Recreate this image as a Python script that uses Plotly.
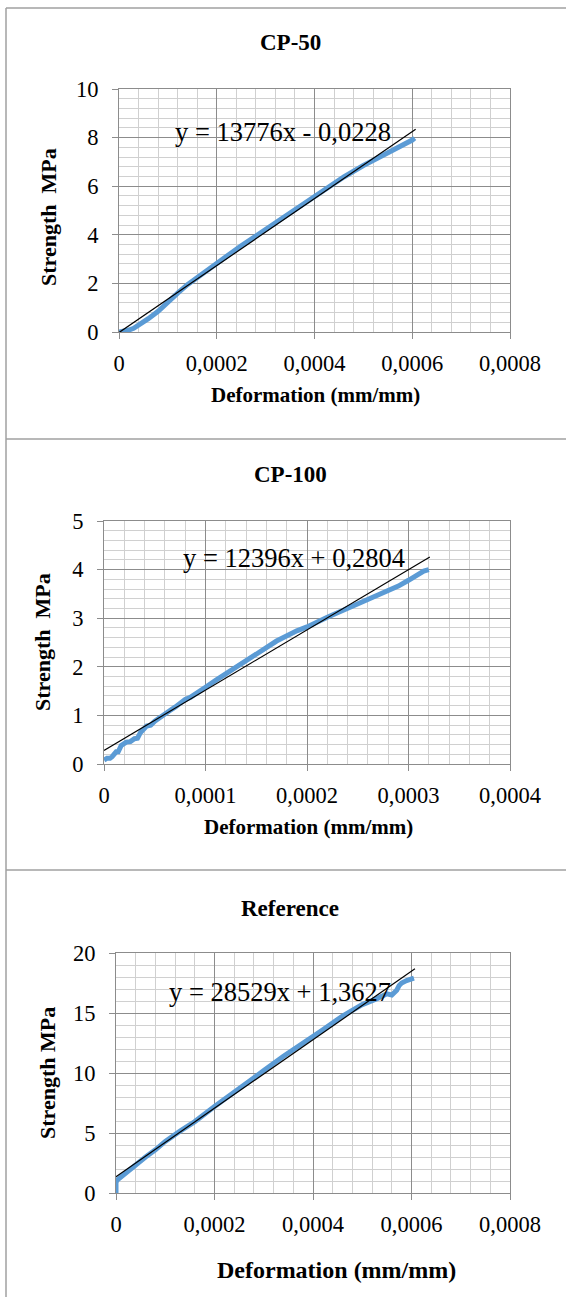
import plotly.graph_objects as go

W, H = 566, 1297

# CP-50 measured curve
cp50_x = [0, 0.00001, 0.00002, 0.00003, 0.00004, 0.00005, 0.00006, 0.00008, 0.0001,
          0.00012, 0.00014, 0.00016, 0.00018, 0.0002, 0.00022, 0.00025, 0.00028, 0.0003,
          0.00033, 0.00036, 0.0004, 0.00043, 0.00046, 0.0005, 0.00053, 0.00056, 0.00058,
          0.0006, 0.000605]
cp50_y = [0, 0.03, 0.08, 0.15, 0.27, 0.4, 0.55, 0.85, 1.25,
          1.6, 1.95, 2.25, 2.55, 2.85, 3.13, 3.55, 3.95, 4.22,
          4.63, 5.05, 5.6, 6.0, 6.38, 6.85, 7.15, 7.45, 7.65,
          7.9, 7.98]
cp50_trend_x = [0, 0.000607]
cp50_trend_y = [-0.0228, 8.34]

# CP-100 measured curve (stepped readings)
cp100_x = [0, 0.000003, 0.000006, 0.000008, 0.000012, 0.000014, 0.000017, 0.000022,
           0.000026, 0.00003, 0.000033, 0.000036, 0.000042, 0.000046, 0.00005, 0.000055,
           0.00006, 0.000065, 0.00007, 0.00008, 0.000085, 0.00009, 0.0001, 0.00011,
           0.00012, 0.00013, 0.00015, 0.00017, 0.00019, 0.0002, 0.00022, 0.00024,
           0.00025, 0.00027, 0.00028, 0.00029, 0.0003, 0.00031, 0.000315, 0.00032]
cp100_y = [0.08, 0.12, 0.12, 0.15, 0.25, 0.25, 0.38, 0.45,
           0.46, 0.52, 0.53, 0.65, 0.78, 0.8, 0.88, 0.96,
           1.05, 1.1, 1.17, 1.33, 1.37, 1.45, 1.58, 1.72,
           1.86, 1.98, 2.28, 2.53, 2.74, 2.82, 3.02, 3.2,
           3.3, 3.48, 3.55, 3.66, 3.78, 3.9, 3.97, 4.0]
cp100_trend_x = [0, 0.000321]
cp100_trend_y = [0.2804, 4.26]

# Reference measured curve
ref_x = [0, 0, 0.000003, 0.00001, 0.00002, 0.00004, 0.00006, 0.00008, 0.0001,
         0.00013, 0.00016, 0.0002, 0.00024, 0.00028, 0.0003, 0.00034, 0.00038,
         0.00042, 0.00046, 0.0005, 0.00053, 0.00055, 0.00056, 0.00057, 0.000575,
         0.00058, 0.00059, 0.0006, 0.000605]
ref_y = [0, 0.9, 1.1, 1.35, 1.7, 2.3, 3.0, 3.6, 4.3,
         5.15, 5.95, 7.2, 8.45, 9.65, 10.2, 11.4, 12.45,
         13.6, 14.75, 15.7, 16.2, 16.6, 16.5, 16.9, 17.3,
         17.5, 17.7, 17.8, 17.9]
ref_trend_x = [0, 0.000607]
ref_trend_y = [1.3627, 18.68]

titles = ["CP-50", "CP-100", "Reference"]
equations = ["y = 13776x - 0,0228", "y = 12396x + 0,2804", "y = 28529x + 1,3627"]
y_titles = ["Strength  MPa", "Strength  MPa", "Strength MPa"]
x_title = "Deformation (mm/mm)"

x_ticks_a = [0, 0.0002, 0.0004, 0.0006, 0.0008]
x_labels_a = ["0", "0,0002", "0,0004", "0,0006", "0,0008"]
x_ticks_b = [0, 0.0001, 0.0002, 0.0003, 0.0004]
x_labels_b = ["0", "0,0001", "0,0002", "0,0003", "0,0004"]

FONT = "Liberation Serif"
BLUE = "#5B9BD5"
MAJOR = "#8c8c8c"
MINOR = "#d0d0d0"


def px_x(p):
    return p / W


def px_y(p):
    return 1 - p / H


# plot boxes in pixels: left, right, top, bottom
boxes = [(119, 510, 89, 332), (104, 510, 521, 764), (116, 510, 953, 1193)]

series = [
    (cp50_x, cp50_y, cp50_trend_x, cp50_trend_y),
    (cp100_x, cp100_y, cp100_trend_x, cp100_trend_y),
    (ref_x, ref_y, ref_trend_x, ref_trend_y),
]

fig = go.Figure()
for i, (sx, sy, tx, ty) in enumerate(series):
    suf = "" if i == 0 else str(i + 1)
    fig.add_trace(go.Scatter(x=sx, y=sy, mode="lines", xaxis="x" + suf, yaxis="y" + suf,
                             line=dict(color=BLUE, width=5), showlegend=False))
    fig.add_trace(go.Scatter(x=tx, y=ty, mode="lines", xaxis="x" + suf, yaxis="y" + suf,
                             line=dict(color="black", width=1.2), showlegend=False))

axis_cfg = [
    dict(xr=[0, 0.0008], xt=x_ticks_a, xl=x_labels_a, xminor=0.00004, yr=[0, 10], ydt=2, yminor=0.4),
    dict(xr=[0, 0.0004], xt=x_ticks_b, xl=x_labels_b, xminor=0.00002, yr=[0, 5], ydt=1, yminor=0.2),
    dict(xr=[0, 0.0008], xt=x_ticks_a, xl=x_labels_a, xminor=0.00004, yr=[0, 20], ydt=5, yminor=1),
]

layout = dict(width=W, height=H, margin=dict(l=0, r=0, t=0, b=0, autoexpand=False),
              paper_bgcolor="white", plot_bgcolor="white",
              font=dict(family=FONT, color="black"))

for i, cfg in enumerate(axis_cfg):
    suf = "" if i == 0 else str(i + 1)
    l, r, t, b = boxes[i]
    layout["xaxis" + suf] = dict(
        domain=[px_x(l), px_x(r)], range=cfg["xr"], anchor="y" + suf,
        tickvals=cfg["xt"], ticktext=cfg["xl"], tickfont=dict(size=22.5),
        showgrid=True, gridcolor=MAJOR, gridwidth=1,
        minor=dict(dtick=cfg["xminor"], showgrid=True, gridcolor=MINOR, gridwidth=1, ticks=""),
        showline=True, linecolor=MAJOR, linewidth=1, mirror=True,
        ticks="outside", ticklen=6, tickcolor=MAJOR, ticklabelstandoff=5,
        zeroline=False, fixedrange=True, automargin=False)
    layout["yaxis" + suf] = dict(
        domain=[px_y(b), px_y(t)], range=cfg["yr"], anchor="x" + suf,
        dtick=cfg["ydt"], tick0=0, tickfont=dict(size=22.5),
        showgrid=True, gridcolor=MAJOR, gridwidth=1,
        minor=dict(dtick=cfg["yminor"], showgrid=True, gridcolor=MINOR, gridwidth=1, ticks=""),
        showline=True, linecolor=MAJOR, linewidth=1, mirror=True,
        ticks="outside", ticklen=6, tickcolor=MAJOR, ticklabelstandoff=9,
        zeroline=False, fixedrange=True, automargin=False)

fig.update_layout(**layout)

# titles, equations, axis titles (pixel positions)
title_y = [43, 475, 908]
eq_pos = [(283, 132), (294, 558), (280, 992)]
xt_pos = [(315, 395, 21), (308, 827, 21), (336, 1270, 24)]
yt_pos = [(49, 217), (42, 642), (47, 1073)]

for i in range(3):
    fig.add_annotation(x=px_x(290), y=px_y(title_y[i]), xref="paper", yref="paper",
                       text="<b>%s</b>" % titles[i], showarrow=False,
                       font=dict(size=23, family=FONT), xanchor="center", yanchor="middle")
    ex, ey = eq_pos[i]
    fig.add_annotation(x=px_x(ex), y=px_y(ey), xref="paper", yref="paper",
                       text=equations[i], showarrow=False,
                       font=dict(size=26.5, family=FONT), xanchor="center", yanchor="middle")
    tx, ty, fs = xt_pos[i]
    fig.add_annotation(x=px_x(tx), y=px_y(ty), xref="paper", yref="paper",
                       text="<b>%s</b>" % x_title, showarrow=False,
                       font=dict(size=fs, family=FONT), xanchor="center", yanchor="middle")
    yx, yy = yt_pos[i]
    fig.add_annotation(x=px_x(yx), y=px_y(yy), xref="paper", yref="paper",
                       text="<b>%s</b>" % y_titles[i].replace("  ", "&nbsp; "), showarrow=False,
                       textangle=-90, font=dict(size=22, family=FONT),
                       xanchor="center", yanchor="middle")

# panel frames
frame = dict(color="#a0a0a0", width=1.5)
for yy in [8, 439, 870]:
    fig.add_shape(type="line", xref="paper", yref="paper", x0=px_x(6), x1=1,
                  y0=px_y(yy), y1=px_y(yy), line=frame)
fig.add_shape(type="line", xref="paper", yref="paper", x0=px_x(6), x1=px_x(6),
              y0=px_y(8), y1=0, line=frame)

fig.write_html("out.html", config={"displayModeBar": False},
               post_script="document.body.style.margin='0';document.body.style.overflow='hidden';")
